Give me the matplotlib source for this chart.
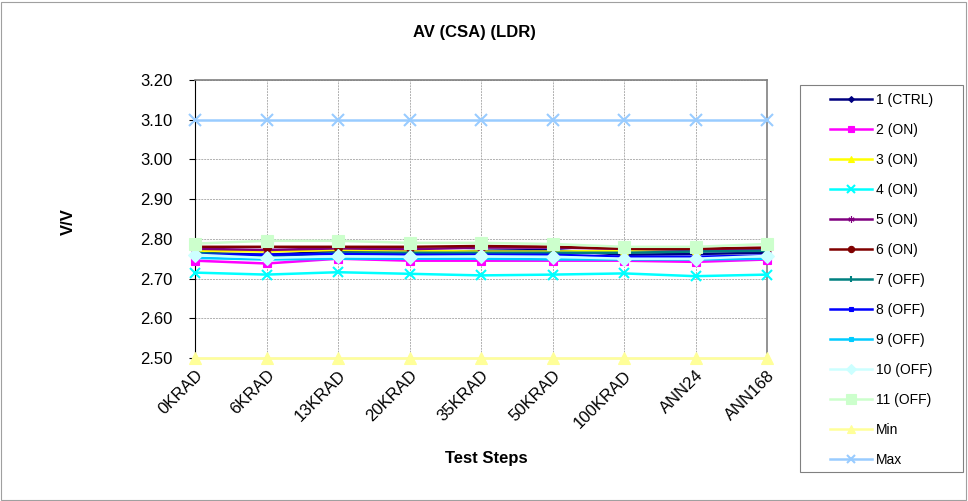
import matplotlib
matplotlib.use("Agg")
import matplotlib.pyplot as plt

plt.rcParams['font.family'] = ['Liberation Sans', 'DejaVu Sans']

steps = ["0KRAD", "6KRAD", "13KRAD", "20KRAD", "35KRAD", "50KRAD", "100KRAD", "ANN24", "ANN168"]

s1_ctrl = [2.765, 2.760, 2.768, 2.765, 2.770, 2.772, 2.760, 2.762, 2.765]
s2_on   = [2.745, 2.738, 2.750, 2.745, 2.745, 2.745, 2.745, 2.742, 2.748]
s3_on   = [2.770, 2.768, 2.772, 2.770, 2.768, 2.768, 2.770, 2.772, 2.770]
s4_on   = [2.715, 2.710, 2.716, 2.712, 2.708, 2.710, 2.713, 2.706, 2.710]
s5_on   = [2.775, 2.772, 2.776, 2.774, 2.778, 2.778, 2.775, 2.772, 2.775]
s6_on   = [2.780, 2.780, 2.780, 2.780, 2.782, 2.780, 2.775, 2.775, 2.778]
s7_off  = [2.765, 2.755, 2.765, 2.765, 2.765, 2.765, 2.765, 2.768, 2.770]
s8_off  = [2.760, 2.760, 2.762, 2.760, 2.760, 2.760, 2.755, 2.755, 2.758]
s9_off  = [2.752, 2.748, 2.750, 2.750, 2.750, 2.748, 2.748, 2.748, 2.750]
s10_off = [2.760, 2.752, 2.756, 2.755, 2.756, 2.755, 2.750, 2.750, 2.757]
s11_off = [2.788, 2.795, 2.795, 2.790, 2.790, 2.787, 2.780, 2.780, 2.787]
min_lim = [2.50] * 9
max_lim = [3.10] * 9

series = [
    ("1 (CTRL)", s1_ctrl, "#000080", "D", 4),
    ("2 (ON)", s2_on, "#FF00FF", "s", 6),
    ("3 (ON)", s3_on, "#FFFF00", "^", 6),
    ("4 (ON)", s4_on, "#00FFFF", "x", 7),
    ("5 (ON)", s5_on, "#800080", (6, 2, 0), 6),
    ("6 (ON)", s6_on, "#800000", "o", 6),
    ("7 (OFF)", s7_off, "#008080", "|", 6),
    ("8 (OFF)", s8_off, "#0000FF", "s", 3),
    ("9 (OFF)", s9_off, "#00CCFF", "s", 3),
    ("10 (OFF)", s10_off, "#CCFFFF", "D", 7),
    ("11 (OFF)", s11_off, "#CCFFCC", "s", 9),
    ("Min", min_lim, "#FFFF99", "^", 8),
    ("Max", max_lim, "#99CCFF", "x", 8),
]

W, H = 968, 501
fig = plt.figure(figsize=(W/100, H/100), dpi=100)
ax = fig.add_axes([195/W, 1 - 358/H, (767-195)/W, (358-80)/H])

x = list(range(len(steps)))
handles = []
for label, vals, color, marker, ms in series:
    h, = ax.plot(x, vals, color=color, marker=marker, markersize=ms, linewidth=1.8,
                 markeredgecolor=color, markerfacecolor=color,
                 markeredgewidth=1.5 if marker in ("x", "|") else 0.8,
                 label=label, clip_on=False, zorder=3)
    handles.append(h)

ax.set_xlim(0, 8)
ax.set_ylim(2.50, 3.20)
yt = [2.50, 2.60, 2.70, 2.80, 2.90, 3.00, 3.10, 3.20]
ax.set_yticks(yt)
ax.set_yticklabels([f"{v:.2f}" for v in yt], fontsize=12)
ax.set_xticks(x)
ax.set_xticklabels(steps, rotation=45, ha='right', va='top', rotation_mode='anchor', fontsize=12)
ax.tick_params(axis='x', length=0, pad=7)
ax.tick_params(axis='y', length=4, pad=12)
ax.grid(True, color='#B0B0B0', linestyle=(0, (2, 1)), linewidth=0.7)
ax.set_axisbelow(True)
for side in ('top', 'right'):
    ax.spines[side].set_color('#808080')
    ax.spines[side].set_linewidth(1.2)
ax.spines['left'].set_color('black')
ax.spines['bottom'].set_color('black')

fig.text(486/W, 1 - 459/H, "Test Steps", ha='center', va='center', fontsize=12, fontweight='bold')
fig.text(68/W, 1 - 222/H, "V/V", ha='center', va='center', rotation=90, fontsize=12, fontweight='bold')
fig.text(474/W, 1 - 33/H, "AV (CSA) (LDR)", ha='center', va='center', fontsize=12, fontweight='bold')

leg = fig.legend(handles=handles, loc='upper left', bbox_to_anchor=(830/W, 1 - 93/H), frameon=False,
                 fontsize=10, labelspacing=1.15, handlelength=3.0, markerscale=0.75,
                 borderpad=0, handletextpad=0.3, borderaxespad=0)

legbox = plt.Rectangle((800/W, 1 - 472/H), (963-800)/W, (472-85)/H, transform=fig.transFigure,
                       fill=False, edgecolor='#808080', linewidth=0.8)
fig.add_artist(legbox)

border = plt.Rectangle((0.001, 0.002), 0.997, 0.995, transform=fig.transFigure, fill=False,
                       edgecolor='#A0A0A0', linewidth=0.8)
fig.add_artist(border)

fig.savefig("out.png", dpi=100)
